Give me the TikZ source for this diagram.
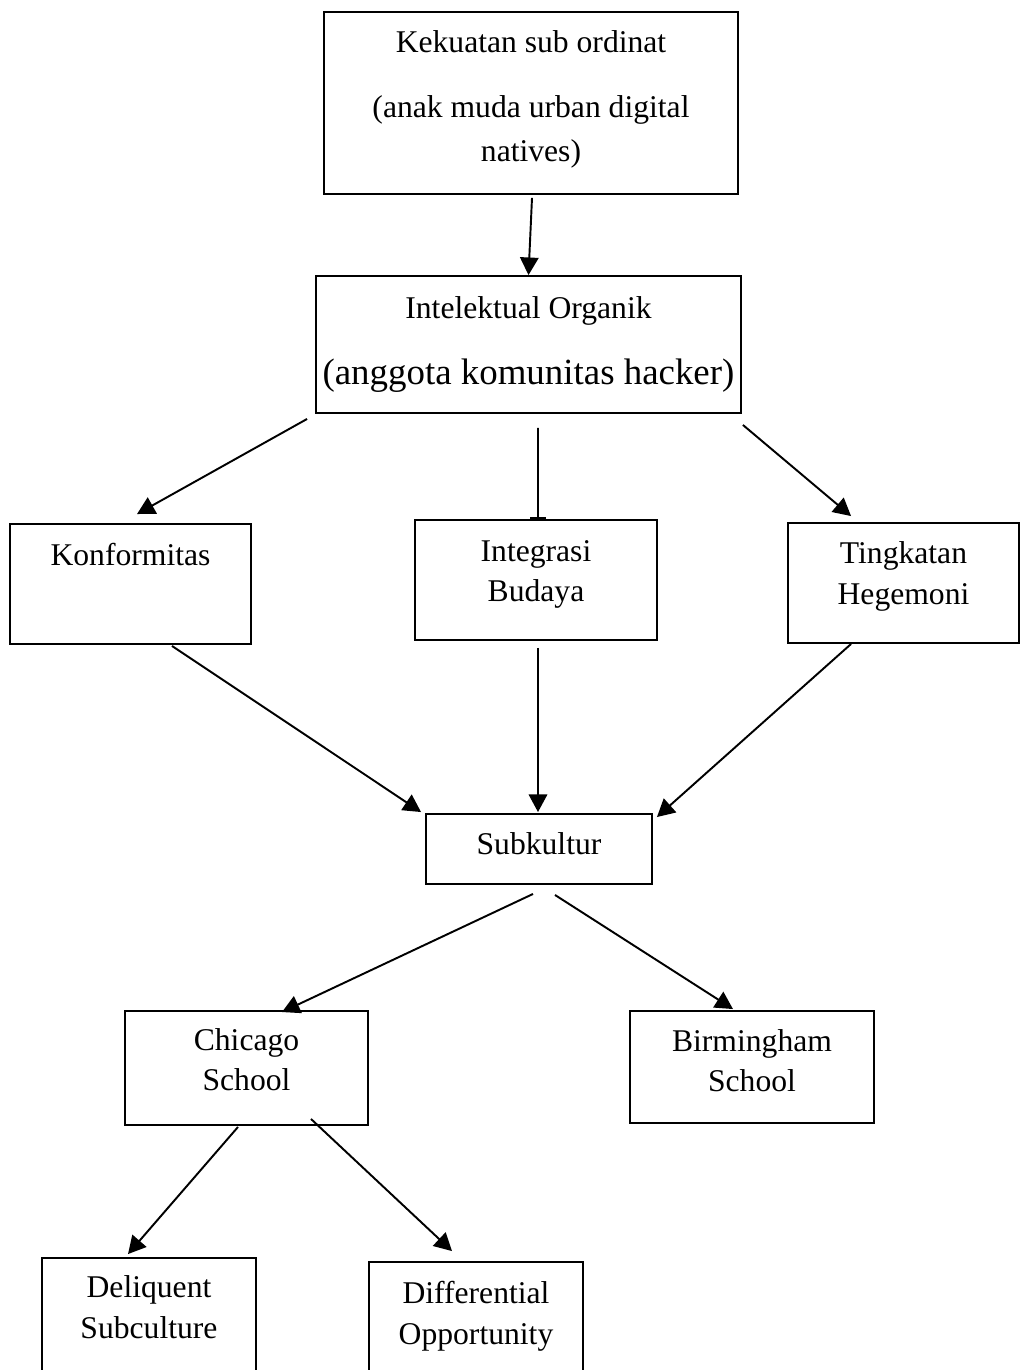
\documentclass[tikz,border=0pt]{standalone}
\usepackage{fontspec}
\setmainfont{Liberation Serif}
\usetikzlibrary{calc,arrows.meta}

\definecolor{linecolor}{RGB}{0,0,0}
% empty depth below the last line, pushes the text up in its box
\newcommand{\jarakbawah}[1]{\rule[-#1]{0pt}{#1}}

\begin{document}
\begin{tikzpicture}[x=0.02cm, y=-0.02cm,
  kotak/.style={draw=linecolor, line width=1.1pt, align=center, inner sep=2pt,
    font=\fontsize{18}{23}\selectfont},
  panah/.style={draw=linecolor, line width=1.1pt, -{Triangle[length=10pt,width=10.5pt]}}]
  % Page of the same size as the reference
  \useasboundingbox (0,0) rectangle (1021,1370);
  \clip (0,0) rectangle (1021,1370);

  % Draw the boxes
  \node[kotak, minimum width=8.28cm, minimum height=3.64cm] (kekuatan) at (531,103)
    {Kekuatan sub ordinat\\[14pt] (anak muda urban digital\\[2pt] natives)\jarakbawah{8pt}};
  \node[kotak, minimum width=8.5cm, minimum height=2.74cm] (intel) at (528.5,344.5)
    {Intelektual Organik\\[15pt] {\fontsize{21}{23}\selectfont (anggota komunitas hacker)}};
  \node[kotak, minimum width=4.82cm, minimum height=2.4cm] (konf) at (130.5,584)
    {Konformitas\jarakbawah{34pt}};
  \node[kotak, minimum width=4.84cm, minimum height=2.4cm] (integ) at (536,580)
    {Integrasi\\Budaya\jarakbawah{10pt}};
  \node[kotak, minimum width=4.62cm, minimum height=2.4cm] (ting) at (903.5,583)
    {Tingkatan\\Hegemoni\jarakbawah{11.5pt}};
  \node[kotak, minimum width=4.52cm, minimum height=1.4cm] (sub) at (539,849)
    {Subkultur\jarakbawah{6pt}};
  \node[kotak, minimum width=4.86cm, minimum height=2.28cm] (chic) at (246.5,1068)
    {Chicago\\School\jarakbawah{9.6pt}};
  \node[kotak, minimum width=4.88cm, minimum height=2.24cm] (birm) at (752,1067)
    {Birmingham\\School\jarakbawah{7.4pt}};
  \node[kotak, minimum width=4.28cm, minimum height=4cm] (deli) at (149,1358)
    {Deliquent\\Subculture\jarakbawah{58pt}};
  \node[kotak, minimum width=4.28cm, minimum height=4cm] (diff) at (476,1362)
    {Differential\\Opportunity\jarakbawah{56pt}};

  % Arrows between the boxes
  \draw[panah] ($(kekuatan.south)+(1,3)$) -- (intel.north);
  \draw[panah] ($(intel.south west)+(-8,5)$) -- ($(konf.north)+(6.5,-9)$);
  \draw[draw=linecolor, line width=1.1pt, -{Bar[width=9pt,line width=1.4pt]}]
    ($(intel.south)+(9.5,14)$) -- ($(integ.north)+(2,0)$);
  \draw[panah] ($(intel.south east)+(1,11)$) -- ($(ting.north west)+(64,-6)$);

  \draw[panah] ($(konf.south)+(41.5,1)$) -- ($(sub.north west)+(-4,-1)$);
  \draw[panah] ($(integ.south)+(2,7)$) -- ($(sub.north)+(-1,-1)$);
  \draw[panah] ($(ting.south west)+(64,0)$) -- ($(sub.north east)+(4,4)$);

  \draw[panah] ($(sub.south)+(-6,9)$) -- ($(chic.north)+(35.5,2)$);
  \draw[panah] ($(sub.south)+(16,10)$) -- ($(birm.north)+(-19,-1)$);

  \draw[panah] ($(chic.south)+(-8.5,1)$) -- ($(deli.north)+(-21,-3)$);
  \draw[panah] ($(chic.south)+(64.5,-7)$) -- ($(diff.north)+(-24,-10)$);
\end{tikzpicture}
\end{document}
